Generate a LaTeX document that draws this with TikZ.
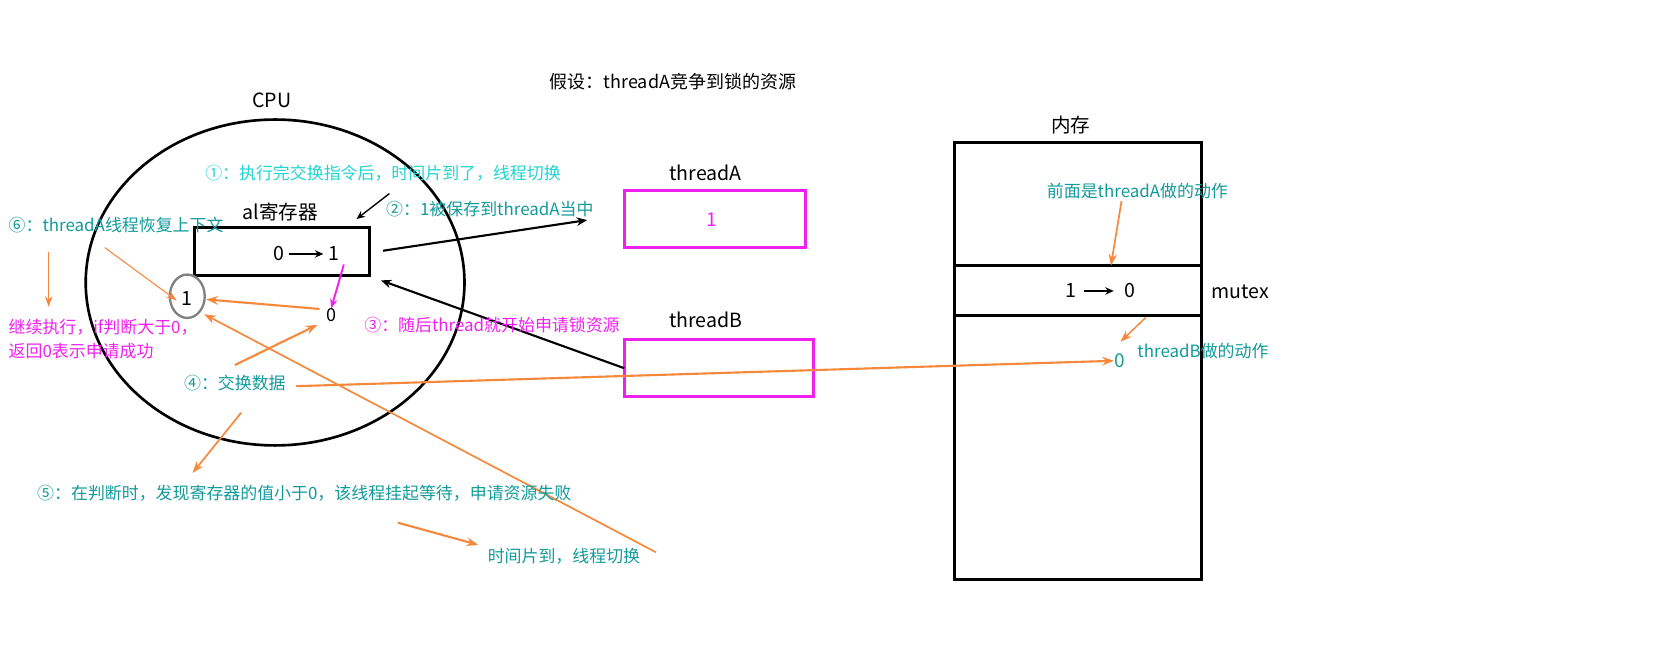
\documentclass[tikz,border=0pt]{standalone}
\usepackage{fontspec}
\setmainfont{Noto Sans CJK SC}
\usetikzlibrary{arrows.meta}
\definecolor{tealtxt}{HTML}{129A9A}
\definecolor{cyantxt}{HTML}{22D3D3}
\definecolor{magc}{HTML}{F020F0}
\definecolor{orgc}{HTML}{F5883A}
\definecolor{grayc}{HTML}{808080}
\tikzset{
  txt/.style={font=\fontsize{16}{19}\selectfont, inner sep=0pt},
  bigt/.style={font=\fontsize{18.5}{22}\selectfont, inner sep=0pt},
  tealt/.style={txt, text=tealtxt},
  cyant/.style={txt, text=cyantxt},
  magt/.style={txt, text=magc},
  boxline/.style={line width=2.8pt},
  magbox/.style={draw=magc, line width=3pt},
  blkarrow/.style={draw=black, line width=2pt, -{Stealth[length=10pt,width=8pt]}},
  thinblk/.style={draw=black, line width=1.3pt, -{Stealth[length=8pt,width=7pt]}},
  orgarrow/.style={draw=orgc, line width=2pt, -{Stealth[length=11pt,width=8pt]}},
  orgthin/.style={draw=orgc, line width=1pt, -{Stealth[length=10pt,width=7pt]}},
  magarrow/.style={draw=magc, line width=1.8pt, -{Stealth[length=9pt,width=7pt]}},
}
\begin{document}
\begin{tikzpicture}[x=1pt,y=-1pt]
\useasboundingbox (0,0) rectangle (1568,609);

% title
\node[txt, font=\fontsize{17}{20}\selectfont] (title) at (636,77) {假设：threadA竞争到锁的资源};

% CPU
\node[bigt] (cpulbl) at (257,95) {CPU};
\draw[line width=2.5pt] (260,267) ellipse [x radius=179, y radius=154];
\node[cyant] (t1) at (362,164) {①：执行完交换指令后，时间片到了，线程切换};
\node[bigt] (allbl) at (265,200) {al寄存器};
\draw[boxline] (184,215) rectangle (349,260);
\coordinate (regE) at (362,237);
\node[bigt] (r0) at (264,240) {0};
\node[bigt] (r1) at (316,240) {1};
\draw[blkarrow, line width=2.2pt, -{Stealth[length=8pt,width=7pt]}] ([xshift=4pt]r0.east) -- ([xshift=-5pt]r1.west);
\coordinate (c1s) at (368,183);
\coordinate (c1e) at (337,207);
\draw[thinblk] (c1s) -- (c1e);

\node[tealt] (t2) at (463,198) {②：1被保存到threadA当中};

% threads
\node[bigt] (thA) at (667,163) {threadA};
\draw[magbox] (590,180) rectangle (761,234);
\node[magt, font=\fontsize{18}{21}\selectfont] (valA) at (673,208) {1};
\coordinate (thAW) at (555,208);
\draw[blkarrow] (regE) -- (thAW);

\node[bigt] (thB) at (667,302) {threadB};
\draw[magbox] (590,321) rectangle (769,375);
\coordinate (thBW) at (590,348);
\coordinate (regSE) at (360,265);
\draw[blkarrow] (thBW) -- (regSE);

\node[magt] (t3) at (465,307) {③：随后thread就开始申请锁资源};

% zero and circled one
\node[txt, font=\fontsize{17}{20}\selectfont] (zero) at (313,298) {0};
\node[bigt] (one) at (177,282) {1};
\draw[grayc, line width=2.2pt] (177,280) ellipse [x radius=16.5, y radius=20.5];
\coordinate (magS) at (325,250);
\draw[magarrow] (magS) -- (zero.north);

\coordinate (oneR) at (195,283);
\coordinate (zeroL) at (302,292);
\draw[orgarrow] (zeroL) -- (oneR);

\node[tealt] (t4) at (222,362) {④：交换数据};
\coordinate (t4a) at (222,345);
\coordinate (zeroB) at (300,307);
\draw[orgarrow] (t4a) -- (zeroB);

\node[tealt, anchor=west] (t6) at (8,213) {⑥：threadA线程恢复上下文};
\coordinate (t6a) at (99,234);
\coordinate (oneUL) at (167,284);
\draw[orgthin] (t6a) -- (oneUL);
\coordinate (t6b) at (46,238);
\coordinate (t6c) at (46,290);
\draw[orgthin, line width=1.5pt] (t6b) -- (t6c);

\node[magt, anchor=west] (ok1) at (8,309) {继续执行，if判断大于0，};
\node[magt, anchor=west] (ok2) at (8,332) {返回0表示申请成功};

\coordinate (longS) at (620,522);
\coordinate (oneBR) at (193,297);
\draw[orgarrow, line width=1.6pt] (longS) -- (oneBR);

\node[tealt, anchor=west] (t5) at (35,466) {⑤：在判断时，发现寄存器的值小于0，该线程挂起等待，申请资源失败};
\coordinate (t5s) at (228,390);
\coordinate (t5e) at (182,447);
\draw[orgarrow, line width=1.6pt] (t5s) -- (t5e);

\node[tealt] (ts) at (533,526) {时间片到，线程切换};
\coordinate (tss) at (376,494);
\coordinate (tse) at (452,515);
\draw[orgarrow] (tss) -- (tse);

% memory
\node[bigt] (memlbl) at (1012,118) {内存};
\draw[boxline] (902,135) rectangle (1136,548);
\draw[boxline] (902,251) -- (1136,251);
\draw[boxline] (902,298) -- (1136,298);
\node[bigt] (m1) at (1012,275) {1};
\node[bigt] (m0) at (1068,275) {0};
\draw[blkarrow, line width=2.2pt, -{Stealth[length=8pt,width=7pt]}] ([xshift=7pt]m1.east) -- ([xshift=-10pt]m0.west);
\node[bigt] (mutex) at (1172,276) {mutex};

\node[tealt] (tA) at (1075,181) {前面是threadA做的动作};
\coordinate (tAs) at (1060,190);
\coordinate (memline) at (1050,251);
\draw[orgarrow, line width=1.6pt] (tAs) -- (memline);

\node[tealt, font=\fontsize{18}{21}\selectfont] (mz) at (1058,341) {0};
\node[tealt] (tB) at (1137,332) {threadB做的动作};
\coordinate (mzs) at (1083,300);
\coordinate (mze) at (1059,323);
\draw[orgarrow, line width=1.4pt] (mzs) -- (mze);

\coordinate (t4e) at (280,365);
\draw[orgarrow] (t4e) -- (mz.west);
\end{tikzpicture}
\end{document}
